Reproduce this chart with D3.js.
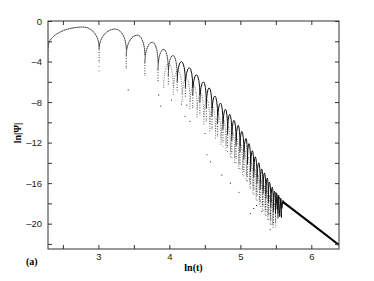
<!DOCTYPE html>
<html>
<head>
<meta charset="utf-8">
<script src="https://cdn.jsdelivr.net/npm/d3@7"></script>
<style>
  body { margin: 0; background: #fff; }
  svg { display: block; }
</style>
</head>
<body>
<svg width="374" height="281"></svg>
<script>
// Data
// ----------------------

// upper hump train: peak positions (ln t) and heights (ln|Psi|)
var peakX = [2.785, 3.235, 3.55, 3.76, 3.92, 4.05, 4.17, 4.28, 4.38, 4.48, 4.56, 4.64, 4.72, 4.79, 4.85, 4.91,
             4.97, 5.02, 5.08, 5.12, 5.17, 5.21, 5.26, 5.30, 5.34, 5.38, 5.41, 5.45, 5.48, 5.51, 5.55];
var peakY = [-0.6, -0.8, -1.4, -2.1, -2.8, -3.4, -4.0, -4.6, -5.3, -6.0, -6.6, -7.4, -8.1, -8.7, -9.2, -9.8,
             -10.3, -10.9, -11.6, -12.1, -12.8, -13.4, -14.0, -14.6, -15.0, -15.5, -15.9, -16.4, -16.8, -17.0, -17.4];
// lowest dot reached in each dip (left edge, between peaks, after last peak)
var dipLow = [-4.0, -5.0, -4.8, -5.6, -6.0, -6.4, -7.0, -7.6, -8.6, -9.2, -10.0, -10.8, -11.6, -12.4, -13.0, -13.6,
              -14.4, -15.0, -15.6, -16.2, -16.8, -17.4, -18.0, -18.6, -19.0, -19.4, -19.8, -20.2, -20.4, -20.0, -19.6, -18.2];

// second, fainter hump train sitting under the first one
var lowX = [3.99, 4.12, 4.24, 4.34, 4.44, 4.53, 4.61, 4.69, 4.765, 4.83, 4.89, 4.95, 5.005, 5.06, 5.11, 5.155,
            5.20, 5.245, 5.29, 5.33, 5.37, 5.405, 5.44, 5.475];
var lowY = [-4.2, -4.9, -5.6, -6.3, -7.1, -7.8, -8.5, -9.2, -9.8, -10.4, -11.0, -11.6, -12.2, -12.8, -13.4, -14.0,
            -14.6, -15.2, -15.7, -16.2, -16.7, -17.2, -17.6, -18.0];

// isolated points far below the humps
var strayX = [3.42, 3.85, 3.88, 4.03, 4.17, 4.22, 4.245, 4.29, 4.50, 4.53, 4.58, 4.74, 4.86, 4.98, 5.14, 5.19, 5.23, 5.30, 5.42, 5.42];
var strayY = [-6.8, -7.3, -8.4, -7.8, -8.2, -9.4, -8.3, -9.9, -11.1, -13.2, -13.9, -15.2, -16.0, -16.9, -19.0, -18.5, -18.2, -18.8, -20.6, -19.0];

// wiggles where the humps run into the tail
var kinkX = [5.50, 5.52, 5.54, 5.555, 5.57, 5.585, 5.60, 5.62];
var kinkY = [-16.9, -18.6, -17.2, -19.3, -17.5, -18.5, -17.7, -18.1];

// straight power-law tail
var tailX = [5.60, 6.0, 6.39];
var tailY = [-17.85, -20.0, -22.1];

// axis ticks
var xTicks = [2.5, 3, 3.5, 4, 4.5, 5, 5.5, 6];
var yTicks = [-22, -20, -18, -16, -14, -12, -10, -8, -6, -4, -2, 0];

// Setup
// -----

var svg = d3.select("svg"),
    mLeft = 48, mRight = 339, mTop = 21, mBottom = 249;

var x = d3.scaleLinear().domain([2.29, 6.39]).range([mLeft, mRight]);
var y = d3.scaleLinear().domain([-22.5, 0]).range([mBottom, mTop]);

svg.append("rect").attr("width", 374).attr("height", 281).attr("fill", "#fff");

svg.append("clipPath").attr("id", "plot")
  .append("rect").attr("x", mLeft).attr("y", mTop).attr("width", mRight - mLeft).attr("height", mBottom - mTop);

var g = svg.append("g").attr("clip-path", "url(#plot)");

// dips sit halfway between neighbouring peaks
function dipsOf(px, first, last) {
  var d = [first];
  for (var i = 1; i < px.length; i++) d.push((px[i - 1] + px[i]) / 2);
  d.push(last);
  return d;
}

// two quarter ellipses: up from the left dip to the peak, then down to the right dip
function humpPath(xl, xp, xr, yp, drop) {
  var y0 = y(yp - drop), y1 = y(yp), ry = y0 - y1;
  return "M" + x(xl) + "," + y0 +
         "A" + (x(xp) - x(xl)) + "," + ry + " 0 0 1 " + x(xp) + "," + y1 +
         "A" + (x(xr) - x(xp)) + "," + ry + " 0 0 1 " + x(xr) + "," + y0;
}

var dipX = dipsOf(peakX, 2.29, 5.58);
var dropMain = 2.0;

// dotted columns under the dips: denser just below the humps, sparse further down
dipX.forEach(function(dx, i) {
  var a = i > 0 ? peakY[i - 1] : peakY[0];
  var b = i < peakY.length ? peakY[i] : peakY[peakY.length - 1];
  var start = Math.min(a, b) - dropMain;
  var mid = Math.max(start - 1.2, dipLow[i]);
  g.append("line")
      .attr("x1", x(dx)).attr("x2", x(dx))
      .attr("y1", y(start)).attr("y2", y(mid))
      .attr("stroke", "#222")
      .attr("stroke-width", 0.9)
      .attr("stroke-dasharray", "1 1.6");
  g.append("line")
      .attr("x1", x(dx)).attr("x2", x(dx))
      .attr("y1", y(mid)).attr("y2", y(dipLow[i]))
      .attr("stroke", "#333")
      .attr("stroke-width", 0.8)
      .attr("stroke-dasharray", "0.9 3.6");
});

// lower train
var lowDip = dipsOf(lowX, 3.92, 5.50);
lowX.forEach(function(px, i) {
  g.append("path")
      .attr("d", humpPath(lowDip[i], px, lowDip[i + 1], lowY[i], 2.4))
      .attr("fill", "none")
      .attr("stroke", "#333")
      .attr("stroke-width", 0.8)
      .attr("stroke-dasharray", "0.9 1.4");
});

// upper train
peakX.forEach(function(px, i) {
  g.append("path")
      .attr("d", humpPath(dipX[i], px, dipX[i + 1], peakY[i], dropMain))
      .attr("fill", "none")
      .attr("stroke", "#111")
      .attr("stroke-width", 1)
      .attr("stroke-dasharray", i < 6 ? "1.4 0.5" : null);
});

// stray points
g.selectAll("circle.stray")
  .data(d3.range(strayX.length))
  .enter().append("circle")
    .attr("cx", function(i) { return x(strayX[i]); })
    .attr("cy", function(i) { return y(strayY[i]); })
    .attr("r", 0.6)
    .attr("fill", "#222");

var line = d3.line();

// wiggles
g.append("path")
    .attr("d", line(kinkX.map(function(v, i) { return [x(v), y(kinkY[i])]; })))
    .attr("fill", "none")
    .attr("stroke", "#111")
    .attr("stroke-width", 1);

// tail
g.append("path")
    .attr("d", line(tailX.map(function(v, i) { return [x(v), y(tailY[i])]; })))
    .attr("fill", "none")
    .attr("stroke", "#000")
    .attr("stroke-width", 2);

// Axes
// ----

function fmt(d) {
  if (d % 1 !== 0) return "";
  return d < 0 ? "\u2013" + Math.abs(d) : String(d);
}

var axB = svg.append("g").attr("transform", "translate(0," + mBottom + ")")
    .call(d3.axisBottom(x).tickValues(xTicks).tickSize(-4).tickPadding(4).tickFormat(fmt));
var axT = svg.append("g").attr("transform", "translate(0," + mTop + ")")
    .call(d3.axisTop(x).tickValues(xTicks).tickSize(-4).tickFormat(""));
var axL = svg.append("g").attr("transform", "translate(" + mLeft + ",0)")
    .call(d3.axisLeft(y).tickValues(yTicks).tickSize(-4).tickPadding(6)
      .tickFormat(function(d) { return d % 4 === 0 ? fmt(d) : ""; }));
var axR = svg.append("g").attr("transform", "translate(" + mRight + ",0)")
    .call(d3.axisRight(y).tickValues(yTicks).tickSize(-4).tickFormat(""));

[axB, axT, axL, axR].forEach(function(a) {
  a.select(".domain").remove();
  a.selectAll("line").attr("stroke", "#333");
  a.selectAll("text").attr("fill", "#222").style("font", "9.5px 'Liberation Sans', Arial, sans-serif");
});

svg.append("rect")
    .attr("x", mLeft).attr("y", mTop).attr("width", mRight - mLeft).attr("height", mBottom - mTop)
    .attr("fill", "none").attr("stroke", "#333").attr("stroke-width", 1);

// labels
svg.append("text")
    .attr("x", (mLeft + mRight) / 2).attr("y", 271)
    .attr("text-anchor", "middle")
    .style("font", "bold 10px 'Liberation Serif', 'Times New Roman', serif")
    .text("ln(t)");

svg.append("text")
    .attr("transform", "translate(21,133) rotate(-90)")
    .attr("text-anchor", "middle")
    .style("font", "bold 10px 'Liberation Serif', 'Times New Roman', serif")
    .text("ln|\u03A8|");

svg.append("text")
    .attr("x", 26).attr("y", 265)
    .style("font", "bold 10px 'Liberation Serif', 'Times New Roman', serif")
    .text("(a)");
</script>
</body>
</html>
